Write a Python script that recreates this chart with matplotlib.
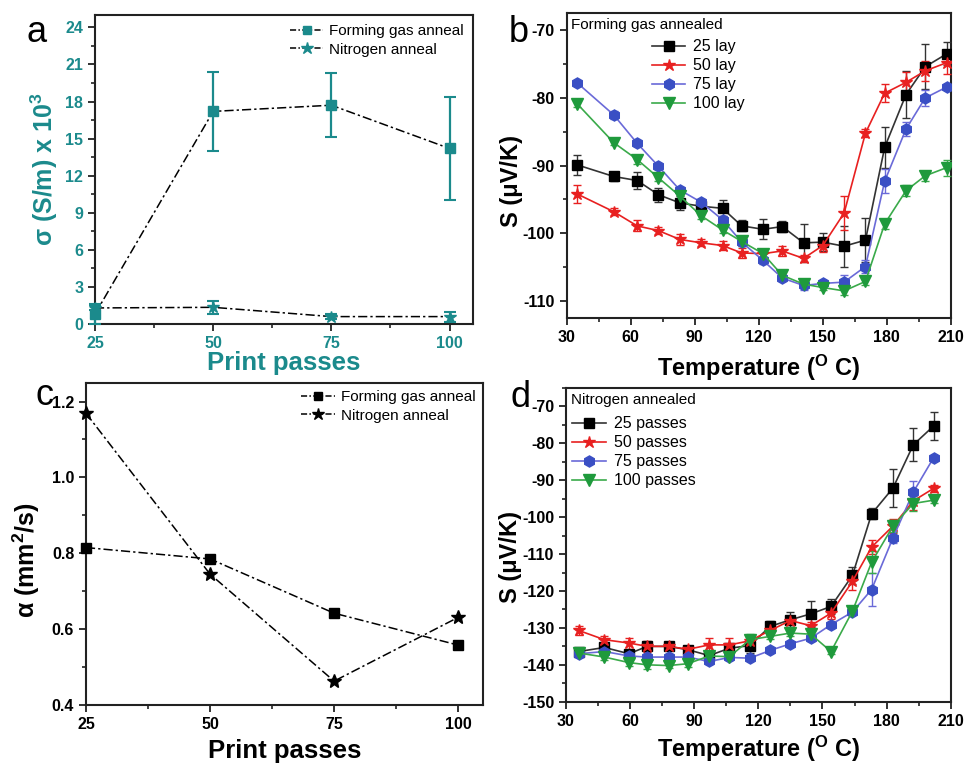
import matplotlib
matplotlib.use("Agg")
import matplotlib.pyplot as plt
from matplotlib.ticker import MultipleLocator
from matplotlib.lines import Line2D

plt.rcParams['font.family'] = ['Liberation Sans', 'DejaVu Sans']
plt.rcParams['mathtext.fontset'] = 'custom'
plt.rcParams['mathtext.rm'] = 'Liberation Sans:bold'
plt.rcParams['mathtext.bf'] = 'Liberation Sans:bold'
plt.rcParams['mathtext.it'] = 'Liberation Sans:bold'
plt.rcParams['axes.unicode_minus'] = False

TEAL = '#1b8a8c'
C_BLACK = '#000000'
C_RED = '#e82020'
C_BLUE = '#3a4fc4'
C_GREEN = '#1f9a3c'

# ---------------- panel a ----------------
passes = [25, 50, 75, 100]
sigma_fg = [0.8, 17.2, 17.7, 14.2]
sigma_fg_err = [0.8, 3.2, 2.6, 4.2]
sigma_n2 = [1.3, 1.35, 0.6, 0.6]
sigma_n2_err = [0.2, 0.5, 0.2, 0.4]

# ---------------- panel b ----------------
temp_b = [35, 52, 63, 73, 83, 93, 103, 112, 122, 131, 141, 150, 160, 170, 179, 189, 198, 208]
s_fg25 = [-89.9, -91.6, -92.2, -94.3, -95.5, -96.0, -96.3, -98.9, -99.4, -99.0, -101.4, -101.3, -101.9, -101.0, -87.3, -79.5, -75.4, -73.5]
s_fg25_err = [1.5, 0.7, 1.2, 1.0, 1.0, 0.8, 1.2, 0.8, 1.5, 0.8, 2.8, 1.3, 3.0, 3.2, 3.0, 3.5, 3.3, 1.7]
s_fg50 = [-94.2, -96.8, -98.9, -99.6, -100.9, -101.4, -101.8, -102.9, -103.0, -102.6, -103.7, -101.8, -97.0, -85.2, -79.3, -77.7, -76.0, -74.8]
s_fg50_err = [1.3, 0.5, 0.8, 0.5, 0.8, 0.5, 0.7, 0.8, 0.6, 0.8, 0.5, 1.0, 2.5, 0.6, 1.3, 1.5, 1.5, 1.7]
s_fg75 = [-77.8, -82.5, -86.7, -90.1, -93.6, -95.4, -98.0, -101.3, -104.0, -106.6, -107.7, -107.4, -107.2, -104.9, -92.3, -84.6, -80.0, -78.4]
s_fg75_err = [0.3, 0.6, 0.4, 0.4, 0.5, 0.5, 0.5, 0.6, 0.5, 0.4, 0.7, 0.3, 1.0, 1.0, 1.8, 1.0, 1.2, 0.3]
s_fg100 = [-80.9, -86.6, -89.1, -91.8, -94.5, -97.4, -99.5, -101.2, -103.0, -106.2, -107.5, -108.0, -108.5, -107.1, -98.6, -93.7, -91.5, -90.3]
s_fg100_err = [0.5, 0.4, 0.6, 0.5, 0.6, 0.5, 0.5, 0.6, 0.5, 0.6, 0.5, 0.4, 0.6, 0.6, 0.7, 0.8, 0.7, 1.2]

# ---------------- panel c ----------------
alpha_fg = [0.815, 0.785, 0.642, 0.558]
alpha_n2 = [1.169, 0.745, 0.463, 0.631]

# ---------------- panel d ----------------
temp_d = [36, 48, 59.5, 68, 78, 87, 97, 106.5, 116, 125.5, 135, 144.5, 154, 164, 173, 183, 192.5, 202]
s_n25 = [-136.4, -135.3, -137.0, -135.0, -135.0, -135.9, -137.5, -135.5, -134.8, -129.6, -127.8, -126.2, -124.2, -115.8, -99.1, -92.1, -80.4, -75.3]
s_n25_err = [0.8, 0.8, 0.8, 1.0, 0.8, 0.8, 1.0, 1.0, 2.0, 1.5, 2.0, 3.5, 2.0, 2.2, 1.5, 5.2, 4.5, 3.8]
s_n50 = [-130.7, -133.2, -134.1, -135.0, -135.0, -135.8, -134.6, -134.6, -133.5, -130.7, -128.0, -129.4, -126.0, -117.4, -108.1, -102.4, -95.6, -92.2]
s_n50_err = [1.2, 1.0, 1.5, 1.5, 1.0, 1.0, 1.8, 1.8, 1.0, 1.0, 1.0, 1.0, 1.5, 2.2, 2.0, 2.0, 2.5, 1.0]
s_n75 = [-137.0, -136.4, -137.6, -137.9, -137.9, -137.9, -139.1, -138.0, -138.2, -136.1, -134.3, -132.8, -129.1, -125.7, -119.6, -105.6, -93.2, -83.9]
s_n75_err = [0.5, 0.5, 0.5, 0.5, 0.5, 0.5, 0.6, 0.5, 0.6, 0.5, 0.5, 0.8, 0.6, 0.6, 4.5, 1.5, 3.0, 0.5]
s_n100 = [-136.8, -137.9, -139.4, -140.0, -140.2, -139.7, -137.6, -137.8, -133.2, -132.3, -131.4, -131.7, -136.4, -125.5, -112.2, -102.4, -96.3, -95.4]
s_n100_err = [0.5, 0.8, 0.8, 1.2, 0.6, 0.8, 0.8, 0.8, 1.5, 0.6, 0.8, 0.8, 0.6, 0.8, 3.0, 1.5, 2.0, 0.8]

fig = plt.figure(figsize=(9.65, 7.64), dpi=100)

TICK_FS = 11.5
LAB_FS = 17
DASHDOT = (0, (6, 2, 1.5, 2))
DASHDOT_LEG = (0, (4, 1.5, 1, 1.5))


def style_axes(ax, color='black'):
    for sp in ax.spines.values():
        sp.set_linewidth(1.5)
        sp.set_color('#222222')
    ax.tick_params(which='major', direction='out', length=5, width=1.3,
                   labelsize=TICK_FS, colors='#222222', labelcolor=color)
    ax.tick_params(which='minor', direction='out', length=3, width=1.2, colors='#222222')
    for lab in ax.get_xticklabels() + ax.get_yticklabels():
        lab.set_fontweight('bold')


# ===== panel a =====
axa = fig.add_axes([0.0984, 0.5759, 0.392, 0.4045])
axa.errorbar(passes, sigma_fg, yerr=sigma_fg_err, color='black', ls=DASHDOT, lw=1.1,
             marker='s', ms=7, mfc=TEAL, mec=TEAL, ecolor=TEAL, elinewidth=1.6, capsize=4, capthick=1.5,
             clip_on=False, zorder=3)
axa.errorbar(passes, sigma_n2, yerr=sigma_n2_err, color='black', ls=DASHDOT, lw=1.1,
             marker='*', ms=9, mfc=TEAL, mec=TEAL, ecolor=TEAL, elinewidth=1.6, capsize=4, capthick=1.5,
             clip_on=False, zorder=3)
axa.set_xlim(25, 105)
axa.set_ylim(0, 25)
axa.set_xticks(passes)
axa.xaxis.set_minor_locator(MultipleLocator(12.5))
axa.yaxis.set_major_locator(MultipleLocator(3))
axa.yaxis.set_minor_locator(MultipleLocator(1.5))
style_axes(axa, TEAL)
axa.set_xlabel('Print passes', fontsize=18.5, fontweight='bold', color=TEAL, labelpad=0)
axa.set_ylabel(r'σ (S/m) x 10$^{3}$', fontsize=LAB_FS + 1, fontweight='bold', color=TEAL, labelpad=4)
ha = [Line2D([], [], color='black', ls=DASHDOT_LEG, lw=1.1, marker='s', ms=6, mfc=TEAL, mec=TEAL),
      Line2D([], [], color='black', ls=DASHDOT_LEG, lw=1.1, marker='*', ms=9, mfc=TEAL, mec=TEAL)]
axa.legend(ha, ['Forming gas anneal', 'Nitrogen anneal'], loc='upper right', frameon=False,
           fontsize=11, handlelength=2.2, handletextpad=0.4, borderaxespad=0.2, labelspacing=0.3)
fig.text(0.027, 0.945, 'a', fontsize=26, va='baseline', ha='left')


def seebeck_panel(rect, temps, series, errs, labels, title, ylim, yticks, xlabel_pad, legend_anchor, ylab_y):
    ax = fig.add_axes(rect)
    markers = ['s', '*', 'h', 'v']
    colors = [C_BLACK, C_RED, C_BLUE, C_GREEN]
    lcolors = ['#333333', C_RED, '#6a6ad8', '#3aaa4a']
    sizes = [7, 9, 8, 8]
    handles = []
    for y, e, m, c, lc, s in zip(series, errs, markers, colors, lcolors, sizes):
        ax.errorbar(temps, y, yerr=e, color=lc, lw=1.2, marker=m, ms=s, mfc=c, mec=c,
                    ecolor=lc, elinewidth=1.0, capsize=3, capthick=1.0, zorder=3)
        handles.append(Line2D([], [], color=lc, lw=1.2, marker=m, ms=s, mfc=c, mec=c))
    ax.set_xlim(30, 210)
    ax.set_ylim(*ylim)
    ax.xaxis.set_major_locator(MultipleLocator(30))
    ax.xaxis.set_minor_locator(MultipleLocator(15))
    ax.set_yticks(yticks)
    ax.yaxis.set_minor_locator(MultipleLocator(5))
    style_axes(ax)
    ax.set_xlabel(r'Temperature ($^{\mathbf{O}}$ C)', fontsize=LAB_FS, fontweight='bold', labelpad=xlabel_pad)
    ax.set_ylabel('S (μV/K)', fontsize=LAB_FS, fontweight='bold')
    ax.yaxis.set_label_coords(-0.115, ylab_y)
    ax.text(0.012, 0.985, title, transform=ax.transAxes, fontsize=11, va='top', ha='left')
    ax.legend(handles, labels, loc='upper left', bbox_to_anchor=legend_anchor, frameon=False,
              fontsize=11.5, handlelength=2.1, handletextpad=0.5, labelspacing=0.25, borderaxespad=0)
    return ax


axb = seebeck_panel([0.5873, 0.5838, 0.398, 0.3988], temp_b,
                    [s_fg25, s_fg50, s_fg75, s_fg100], [s_fg25_err, s_fg50_err, s_fg75_err, s_fg100_err],
                    ['25 lay', '50 lay', '75 lay', '100 lay'], 'Forming gas annealed',
                    (-112.5, -67.5), [-110, -100, -90, -80, -70], 6, (0.205, 0.935), 0.45)
fig.text(0.527, 0.945, 'b', fontsize=26, va='baseline', ha='left')

# ===== panel c =====
axc = fig.add_axes([0.0891, 0.0772, 0.4114, 0.4221])
axc.plot(passes, alpha_fg, color='black', ls=DASHDOT, lw=1.1, marker='s', ms=7,
         mfc='black', mec='black', clip_on=False, zorder=3)
axc.plot(passes, alpha_n2, color='black', ls=DASHDOT, lw=1.1, marker='*', ms=10,
         mfc='black', mec='black', clip_on=False, zorder=3)
axc.set_xlim(25, 105)
axc.set_ylim(0.4, 1.25)
axc.set_xticks(passes)
axc.xaxis.set_minor_locator(MultipleLocator(12.5))
axc.set_yticks([0.4, 0.6, 0.8, 1.0, 1.2])
axc.yaxis.set_minor_locator(MultipleLocator(0.1))
style_axes(axc)
axc.set_xlabel('Print passes', fontsize=18.5, fontweight='bold', labelpad=5)
axc.set_ylabel(r'α (mm$^{2}$/s)', fontsize=LAB_FS + 1, fontweight='bold')
axc.yaxis.set_label_coords(-0.11, 0.45)
hc = [Line2D([], [], color='black', ls=DASHDOT_LEG, lw=1.1, marker='s', ms=6),
      Line2D([], [], color='black', ls=DASHDOT_LEG, lw=1.1, marker='*', ms=9)]
axc.legend(hc, ['Forming gas anneal', 'Nitrogen anneal'], loc='upper right', frameon=False,
           fontsize=11, handlelength=2.2, handletextpad=0.4, borderaxespad=0.1, labelspacing=0.3)
fig.text(0.037, 0.470, 'c', fontsize=26, va='baseline', ha='left')

# ===== panel d =====
axd = seebeck_panel([0.5865, 0.0815, 0.3987, 0.4107], temp_d,
                    [s_n25, s_n50, s_n75, s_n100], [s_n25_err, s_n50_err, s_n75_err, s_n100_err],
                    ['25 passes', '50 passes', '75 passes', '100 passes'], 'Nitrogen annealed',
                    (-150, -65), [-150, -140, -130, -120, -110, -100, -90, -80, -70], 4, (0.0, 0.93), 0.46)
fig.text(0.529, 0.467, 'd', fontsize=26, va='baseline', ha='left')

fig.savefig('out.png', dpi=100)
